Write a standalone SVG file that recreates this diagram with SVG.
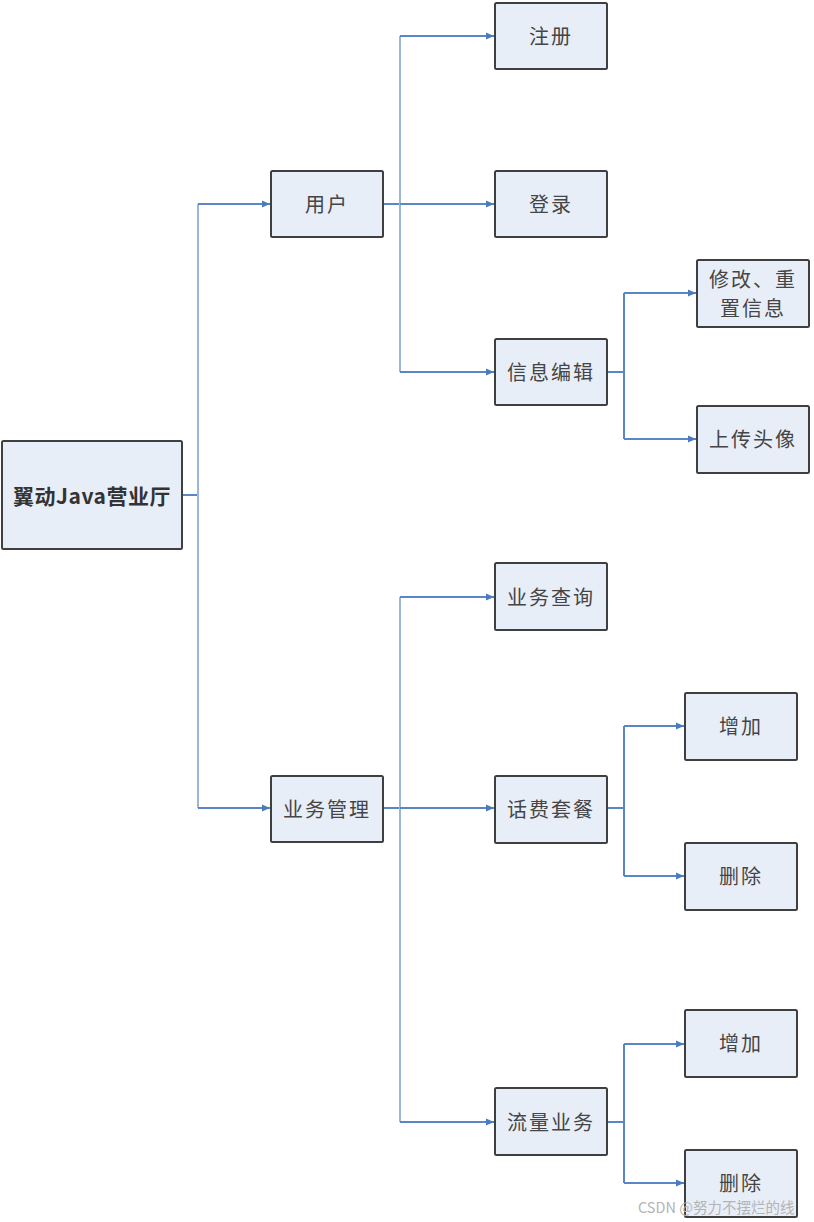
<svg xmlns="http://www.w3.org/2000/svg" width="814" height="1222" viewBox="0 0 814 1222">
<style>
.box{fill:#e8eef8;stroke:#3f3f3f;stroke-width:2}
.t{font-family:"Noto Sans CJK SC","Liberation Sans",sans-serif;font-size:20px;fill:#454545;text-anchor:middle;dominant-baseline:central;letter-spacing:2px}
.root{font-size:21px;font-weight:600;letter-spacing:0.5px;fill:#333}
.c{fill:none;stroke:#5b86c5;stroke-width:2}
.c2{fill:none;stroke:#9db5d9;stroke-width:2}
.wm{font-family:"Noto Sans CJK SC","Liberation Sans",sans-serif;font-size:14.5px;fill:#b4b4b4}
</style>
<defs>
<marker id="ar" markerUnits="userSpaceOnUse" markerWidth="10" markerHeight="10" refX="9" refY="5" orient="auto">
<path d="M1,1.5 L9,5 L1,8.5 Z" fill="#4a7bc0"/>
</marker>
</defs>
<rect width="814" height="1222" fill="#fff"/>
<g id="connectors">
<path class="c" d="M182,495 H198"/>
<path class="c2" d="M198,204 V808"/>
<path class="c" d="M198,204 H270" marker-end="url(#ar)"/>
<path class="c" d="M198,808 H270" marker-end="url(#ar)"/>
<path class="c" d="M383,204 H400"/>
<path class="c2" d="M400,36 V372"/>
<path class="c" d="M400,36 H494" marker-end="url(#ar)"/>
<path class="c" d="M400,204 H494" marker-end="url(#ar)"/>
<path class="c" d="M400,372 H494" marker-end="url(#ar)"/>
<path class="c" d="M607,372 H624"/>
<path class="c" d="M624,293 V439"/>
<path class="c" d="M624,293 H696" marker-end="url(#ar)"/>
<path class="c" d="M624,439 H696" marker-end="url(#ar)"/>
<path class="c" d="M383,808 H400"/>
<path class="c2" d="M400,597 V1122"/>
<path class="c" d="M400,597 H494" marker-end="url(#ar)"/>
<path class="c" d="M400,808 H494" marker-end="url(#ar)"/>
<path class="c" d="M400,1122 H494" marker-end="url(#ar)"/>
<path class="c" d="M607,808 H624"/>
<path class="c" d="M624,726 V876"/>
<path class="c" d="M624,726 H684" marker-end="url(#ar)"/>
<path class="c" d="M624,876 H684" marker-end="url(#ar)"/>
<path class="c" d="M607,1122 H624"/>
<path class="c" d="M624,1044 V1183"/>
<path class="c" d="M624,1044 H684" marker-end="url(#ar)"/>
<path class="c" d="M624,1183 H684" marker-end="url(#ar)"/>
</g>
<g id="root"><rect class="box" x="2" y="441" width="180" height="108" rx="1.5"/><text class="t root" x="92" y="495">翼动Java营业厅</text></g>
<g id="user"><rect class="box" x="271" y="171" width="112" height="66" rx="1.5"/><text class="t" x="327" y="203">用户</text></g>
<g id="register"><rect class="box" x="495" y="3" width="112" height="66" rx="1.5"/><text class="t" x="551" y="35">注册</text></g>
<g id="login"><rect class="box" x="495" y="171" width="112" height="66" rx="1.5"/><text class="t" x="551" y="203">登录</text></g>
<g id="info-edit"><rect class="box" x="495" y="339" width="112" height="66" rx="1.5"/><text class="t" x="551" y="371">信息编辑</text></g>
<g id="modify-reset"><rect class="box" x="697" y="260" width="112" height="67" rx="1.5"/><text class="t" x="753" y="278">修改、重</text><text class="t" x="753" y="307">置信息</text></g>
<g id="avatar"><rect class="box" x="697" y="406" width="112" height="67" rx="1.5"/><text class="t" x="753" y="438">上传头像</text></g>
<g id="biz-mgmt"><rect class="box" x="271" y="776" width="112" height="66" rx="1.5"/><text class="t" x="327" y="808">业务管理</text></g>
<g id="biz-query"><rect class="box" x="495" y="563" width="112" height="67" rx="1.5"/><text class="t" x="551" y="596">业务查询</text></g>
<g id="fee-plan"><rect class="box" x="495" y="776" width="112" height="67" rx="1.5"/><text class="t" x="551" y="808">话费套餐</text></g>
<g id="fee-add"><rect class="box" x="685" y="693" width="112" height="67" rx="1.5"/><text class="t" x="741" y="725">增加</text></g>
<g id="fee-del"><rect class="box" x="685" y="843" width="112" height="67" rx="1.5"/><text class="t" x="741" y="875">删除</text></g>
<g id="data-biz"><rect class="box" x="495" y="1088" width="112" height="67" rx="1.5"/><text class="t" x="551" y="1121">流量业务</text></g>
<g id="data-add"><rect class="box" x="685" y="1010" width="112" height="67" rx="1.5"/><text class="t" x="741" y="1042">增加</text></g>
<g id="data-del"><rect class="box" x="685" y="1150" width="112" height="67" rx="1.5"/><text class="t" x="741" y="1182">删除</text></g>
<text class="wm" x="638" y="1213">CSDN @努力不摆烂的线</text>
</svg>
